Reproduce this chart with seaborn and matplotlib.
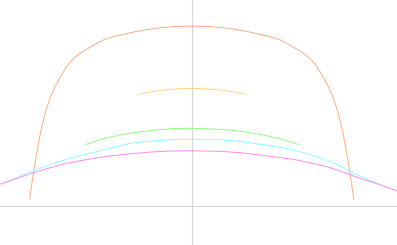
import matplotlib
matplotlib.use("Agg")
import matplotlib.pyplot as plt
import seaborn as sns
import pandas as pd

# ---- data (arbitrary units, origin at the axis cross) ----
coral_x = [-1.62, -1.584, -1.55, -1.51, -1.46, -1.41, -1.365, -1.31, -1.25, -1.19,
           -1.13, -1.07, -1.0, -0.93, -0.87, -0.77, -0.68, -0.57, -0.43, -0.27, -0.12, 0.0,
           0.12, 0.27, 0.43, 0.57, 0.68, 0.77, 0.87, 0.93, 1.0, 1.07, 1.13, 1.19,
           1.25, 1.31, 1.365, 1.41, 1.46, 1.51, 1.55, 1.584, 1.62]
coral_y = [0.07, 0.33, 0.53, 0.75, 0.95, 1.10, 1.20, 1.30, 1.40, 1.47,
           1.52, 1.56, 1.60, 1.64, 1.67, 1.70, 1.72, 1.745, 1.77, 1.79, 1.80, 1.803,
           1.80, 1.79, 1.77, 1.745, 1.72, 1.70, 1.67, 1.64, 1.60, 1.56, 1.52, 1.47,
           1.40, 1.30, 1.20, 1.10, 0.95, 0.75, 0.53, 0.33, 0.07]

orange_x = [-0.534, -0.40, -0.284, -0.14, 0.0, 0.14, 0.283, 0.41, 0.543]
orange_y = [1.12, 1.145, 1.163, 1.175, 1.18, 1.175, 1.163, 1.145, 1.12]

green_x = [-1.067, -0.90, -0.717, -0.50, -0.217, 0.0, 0.283, 0.50, 0.683, 0.90, 1.076]
green_y = [0.616, 0.672, 0.713, 0.748, 0.776, 0.78, 0.770, 0.750, 0.72, 0.672, 0.616]

cyan_x = [-1.85, -1.72, -1.584, -1.42, -1.25, -1.08, -0.917, -0.617, -0.40, -0.217, 0.0,
          0.283, 0.50, 0.683, 0.85, 1.016, 1.18, 1.35, 1.49, 1.616, 1.74, 1.85]
cyan_y = [0.236, 0.30, 0.356, 0.415, 0.47, 0.515, 0.556, 0.63, 0.653, 0.666, 0.67,
          0.666, 0.647, 0.62, 0.595, 0.563, 0.518, 0.463, 0.40, 0.33, 0.28, 0.23]

magenta_x = [-1.917, -1.717, -1.584, -1.42, -1.25, -1.08, -0.917, -0.617, -0.40, -0.217,
             0.0, 0.283, 0.50, 0.683, 1.016, 1.18, 1.35, 1.52, 1.683, 1.87, 2.05]
magenta_y = [0.22, 0.29, 0.336, 0.385, 0.43, 0.462, 0.49, 0.526, 0.543, 0.553,
             0.555, 0.55, 0.535, 0.513, 0.47, 0.436, 0.396, 0.34, 0.28, 0.22, 0.156]

series_names = ["coral", "orange", "green", "cyan", "magenta"]
palette = {"coral": "#FFA878", "orange": "#FFD27A", "green": "#88FF77",
           "cyan": "#80FFFF", "magenta": "#FF80FF"}

frames = []
for name, xs, ys in [("coral", coral_x, coral_y), ("orange", orange_x, orange_y),
                     ("green", green_x, green_y), ("cyan", cyan_x, cyan_y),
                     ("magenta", magenta_x, magenta_y)]:
    frames.append(pd.DataFrame({"x": xs, "y": ys, "series": name}))
df = pd.concat(frames, ignore_index=True)

fig = plt.figure(figsize=(3.97, 2.45), dpi=100)
ax = fig.add_axes([0, 0, 1, 1])
ax.axhline(0, color="#d6d6d6", lw=0.8, zorder=0)
ax.axvline(0, color="#d6d6d6", lw=0.8, zorder=0)

sns.lineplot(data=df, x="x", y="y", hue="series", hue_order=series_names,
             palette=palette, sort=False, estimator=None, units="series",
             lw=0.65, legend=False, ax=ax)

ax.set_xlim(-1.917, 2.053)
ax.set_ylim(-0.387, 2.063)
ax.axis("off")
fig.savefig("out.png", dpi=100)
